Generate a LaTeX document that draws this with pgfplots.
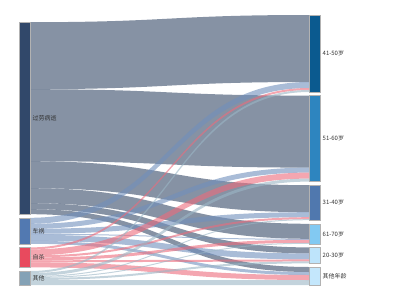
\documentclass[border=0pt]{standalone}
\usepackage{pgfplots}
\pgfplotsset{compat=1.18}
\usepackage{fontspec}
\setmainfont{Noto Sans CJK SC}
\definecolor{n0}{HTML}{31486A}
\definecolor{n1}{HTML}{5279B1}
\definecolor{n2}{HTML}{E84A5E}
\definecolor{n3}{HTML}{84A2B6}
\definecolor{m0}{HTML}{0B5A8F}
\definecolor{m1}{HTML}{2E85BF}
\definecolor{m2}{HTML}{5078AE}
\definecolor{m3}{HTML}{82C9F2}
\definecolor{m4}{HTML}{BEE4FB}
\definecolor{m5}{HTML}{C4E7FC}
\definecolor{k0}{HTML}{354967}
\definecolor{k1}{HTML}{708FBC}
\definecolor{k2}{HTML}{ED6B7B}
\definecolor{k3}{HTML}{9BB6C5}
\definecolor{txt}{HTML}{333333}
\newcommand\lbl{\fontsize{6}{7}\selectfont}
% links: source/target/value
\def\links{0/0/67,0/1/72,0/2/27,0/3/15,0/4/6,0/5/5,%
1/0/6,1/1/5,1/2/5,1/3/1,1/4/6,1/5/3,%
2/0/2,2/1/6,2/2/2,2/3/3,2/4/2,2/5/5,%
3/0/2,3/1/3,3/2/1,3/3/1,3/4/2,3/5/5}
\def\lnames{0/过劳病逝,1/车祸,2/自杀,3/其他}
\def\rnames{0/41-50岁,1/51-60岁,2/31-40岁,3/61-70岁,4/20-30岁,5/其他年龄}
\def\gap{3.6}
\def\bottom{285}
\def\xa{19.5}\def\xb{30}\def\xc{309.5}\def\xd{320}
\begin{document}
\begin{tikzpicture}
\foreach \i in {0,...,3}{\expandafter\xdef\csname ls\i\endcsname{0}}
\foreach \i in {0,...,5}{\expandafter\xdef\csname rs\i\endcsname{0}}
\xdef\tot{0}
\foreach \src/\tgt/\val in \links {%
  \pgfmathsetmacro\tmp{\csname ls\src\endcsname+\val}%
  \expandafter\xdef\csname ls\src\endcsname{\tmp}%
  \pgfmathsetmacro\tmp{\csname rs\tgt\endcsname+\val}%
  \expandafter\xdef\csname rs\tgt\endcsname{\tmp}%
  \pgfmathsetmacro\tmp{\tot+\val}%
  \xdef\tot{\tmp}%
}
\pgfmathsetmacro\tmp{\bottom-\tot-3*\gap}\xdef\ycur{\tmp}
\foreach \i in {0,...,3}{%
  \expandafter\xdef\csname lt\i\endcsname{\ycur}%
  \expandafter\xdef\csname lo\i\endcsname{\ycur}%
  \pgfmathsetmacro\tmp{\ycur+\csname ls\i\endcsname+\gap}%
  \xdef\ycur{\tmp}%
}
\pgfmathsetmacro\tmp{\bottom-\tot-5*\gap}\xdef\ycur{\tmp}
\foreach \i in {0,...,5}{%
  \expandafter\xdef\csname rt\i\endcsname{\ycur}%
  \expandafter\xdef\csname ro\i\endcsname{\ycur}%
  \pgfmathsetmacro\tmp{\ycur+\csname rs\i\endcsname+\gap}%
  \xdef\ycur{\tmp}%
}
\pgfmathsetmacro\xm{(\xb+\xc)/2}
\gdef\flows{}
\foreach \src/\tgt/\val in \links {%
  \pgfmathsetmacro\ya{\csname lo\src\endcsname}%
  \pgfmathsetmacro\yd{\ya+\val}%
  \pgfmathsetmacro\yb{\csname ro\tgt\endcsname}%
  \pgfmathsetmacro\yc{\yb+\val}%
  \expandafter\xdef\csname lo\src\endcsname{\yd}%
  \expandafter\xdef\csname ro\tgt\endcsname{\yc}%
  \xdef\flows{\unexpanded\expandafter{\flows}\noexpand\fill[k\src,fill opacity=0.6] (axis cs:\xb,\ya) .. controls (axis cs:\xm,\ya) and (axis cs:\xm,\yb) .. (axis cs:\xc,\yb) -- (axis cs:\xc,\yc) .. controls (axis cs:\xm,\yc) and (axis cs:\xm,\yd) .. (axis cs:\xb,\yd) -- cycle;}%
}
\gdef\nodes{}
\pgfmathsetmacro\xl{\xb+2.5}
\pgfmathsetmacro\xr{\xd+2.5}
\foreach \i/\name in \lnames {%
  \pgfmathsetmacro\ya{\csname lt\i\endcsname}%
  \pgfmathsetmacro\yb{\ya+\csname ls\i\endcsname}%
  \pgfmathsetmacro\ym{(\ya+\yb)/2}%
  \xdef\nodes{\unexpanded\expandafter{\nodes}\noexpand\filldraw[fill=n\i,draw=black!30,line width=0.5pt] (axis cs:\xa,\ya) rectangle (axis cs:\xb,\yb); \noexpand\node[anchor=west,inner sep=0pt,font=\noexpand\lbl,text=txt] at (axis cs:\xl,\ym) {\name};}%
}
\foreach \i/\name in \rnames {%
  \pgfmathsetmacro\ya{\csname rt\i\endcsname}%
  \pgfmathsetmacro\yb{\ya+\csname rs\i\endcsname}%
  \pgfmathsetmacro\ym{(\ya+\yb)/2}%
  \xdef\nodes{\unexpanded\expandafter{\nodes}\noexpand\filldraw[fill=m\i,draw=black!30,line width=0.5pt] (axis cs:\xc,\ya) rectangle (axis cs:\xd,\yb); \noexpand\node[anchor=west,inner sep=0pt,font=\noexpand\lbl,text=txt] at (axis cs:\xr,\ym) {\name};}%
}
\begin{axis}[width=400bp,height=300bp,scale only axis,xmin=0,xmax=400,ymin=0,ymax=300,y dir=reverse,hide axis,clip=false]
\addplot[draw=none,forget plot] coordinates {(0,0) (400,300)};
\path (axis cs:0,0) rectangle (axis cs:400,300);
\flows
\nodes
\end{axis}
\end{tikzpicture}
\end{document}
